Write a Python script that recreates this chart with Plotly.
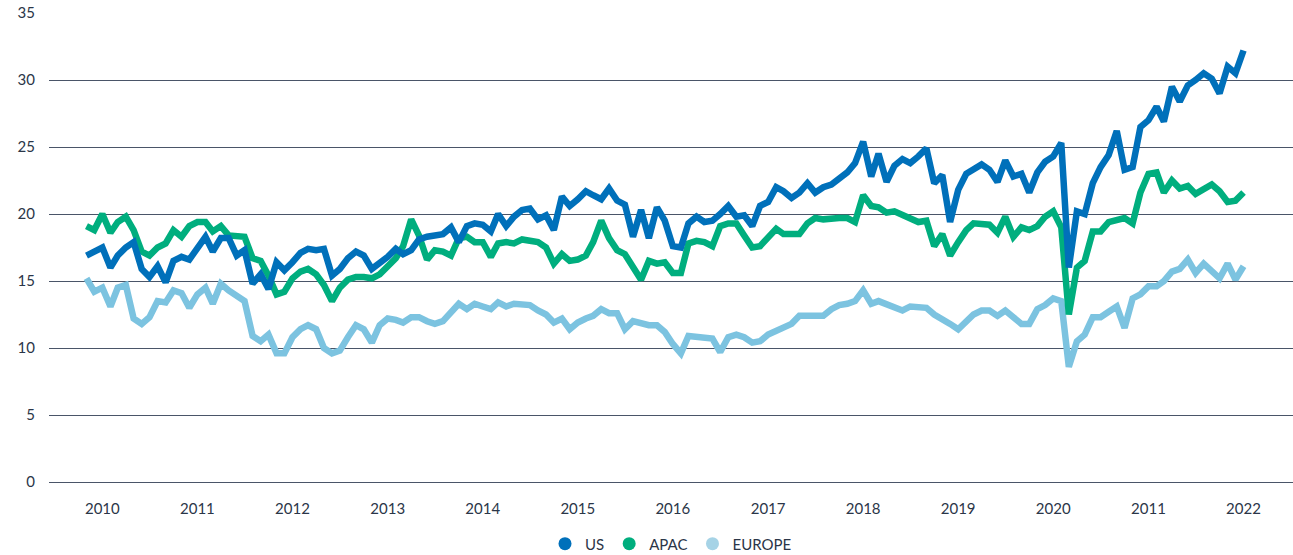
import pandas as pd
import plotly.graph_objects as go

# Monthly observations, Nov 2009 .. Jan 2022
months = pd.date_range("2009-11-01", periods=147, freq="MS")

us = [16.9, 17.2, 17.5, 16.0, 16.9, 17.5, 17.9, 15.9, 15.3, 16.1, 14.9, 16.5, 16.8, 16.6, 17.4, 18.3, 17.2, 18.2, 18.2, 16.9,
      17.3, 14.8, 15.5, 14.4, 16.4, 15.8, 16.4, 17.1, 17.4, 17.3, 17.4, 15.4, 15.9, 16.7, 17.2, 16.9, 15.9, 16.3, 16.8, 17.4,
      17.0, 17.3, 18.1, 18.3, 18.4, 18.5, 19.0, 17.9, 19.1, 19.3, 19.2, 18.7, 20.0, 19.1, 19.8, 20.3, 20.4, 19.6, 19.9, 18.8,
      21.3, 20.6, 21.1, 21.7, 21.4, 21.1, 21.9, 21.0, 20.7, 18.3, 20.3, 18.2, 20.5, 19.5, 17.6, 17.5, 19.3, 19.8, 19.4, 19.5,
      20.0, 20.6, 19.8, 19.9, 19.1, 20.6, 20.9, 22.0, 21.7, 21.2, 21.6, 22.3, 21.6, 22.0, 22.2, 22.6, 23.1, 23.8, 25.4, 22.8,
      24.5, 22.4, 23.6, 24.1, 23.8, 24.3, 24.9, 22.3, 22.9, 19.4, 21.8, 23.0, 23.4, 23.7, 23.3, 22.4, 24.0, 22.8, 23.0, 21.6,
      23.1, 23.9, 24.3, 25.3, 16.0, 20.2, 20.0, 22.3, 23.5, 24.4, 26.2, 23.3, 23.5, 26.5, 27.0, 28.0, 26.9, 29.5, 28.4, 29.6,
      30.0, 30.5, 30.1, 29.0, 31.0, 30.5, 32.2]

apac = [19.1, 18.8, 20.0, 18.6, 19.4, 19.8, 18.8, 17.2, 16.9, 17.5, 17.8, 18.8, 18.3, 19.1, 19.4, 19.4, 18.7, 19.1, 18.4, 18.3,
        18.3, 16.7, 16.5, 15.4, 14.0, 14.2, 15.2, 15.7, 15.9, 15.5, 14.7, 13.5, 14.5, 15.1, 15.3, 15.3, 15.2, 15.5, 16.1, 16.7,
        17.6, 19.6, 18.4, 16.6, 17.3, 17.2, 16.9, 18.2, 18.3, 17.9, 17.9, 16.8, 17.8, 17.9, 17.8, 18.1, 18.0, 17.9, 17.5, 16.3,
        17.0, 16.5, 16.6, 16.9, 17.9, 19.5, 18.2, 17.3, 17.0, 16.1, 15.1, 16.5, 16.3, 16.4, 15.6, 15.6, 17.8, 18.0, 17.9, 17.6,
        19.1, 19.3, 19.3, 18.4, 17.5, 17.6, 18.2, 18.9, 18.5, 18.5, 18.5, 19.3, 19.7, 19.6, 19.7, 19.7, 19.7, 19.4, 21.4, 20.6,
        20.5, 20.1, 20.2, 19.9, 19.7, 19.4, 19.5, 17.6, 18.5, 16.9, 17.9, 18.8, 19.3, 19.3, 19.2, 18.6, 19.8, 18.3, 19.0, 18.8,
        19.1, 19.8, 20.2, 19.0, 12.5, 16.0, 16.5, 18.7, 18.7, 19.4, 19.6, 19.7, 19.3, 21.6, 23.0, 23.1, 21.6, 22.5, 21.9, 22.1,
        21.5, 21.8, 22.2, 21.7, 20.9, 21.0, 21.6]

europe = [15.2, 14.2, 14.5, 13.1, 14.5, 14.7, 12.2, 11.8, 12.3, 13.5, 13.4, 14.3, 14.1, 13.0, 14.0, 14.5, 13.3, 14.8, 14.3, 13.9,
          13.5, 10.9, 10.5, 11.0, 9.6, 9.6, 10.8, 11.4, 11.7, 11.4, 10.0, 9.6, 9.8, 10.8, 11.7, 11.4, 10.4, 11.7, 12.2, 12.1,
          11.9, 12.3, 12.3, 12.0, 11.8, 12.0, 12.6, 13.3, 12.9, 13.3, 13.1, 12.9, 13.4, 13.1, 13.3, 13.3, 13.2, 12.8, 12.5, 11.9,
          12.2, 11.4, 11.9, 12.2, 12.4, 12.9, 12.6, 12.6, 11.4, 12.0, 11.8, 11.7, 11.7, 11.2, 10.3, 9.6, 10.9, 10.8, 10.8, 10.7,
          9.7, 10.8, 11.0, 10.8, 10.4, 10.5, 11.0, 11.3, 11.6, 11.8, 12.4, 12.4, 12.4, 12.4, 12.9, 13.2, 13.3, 13.5, 14.3, 13.3,
          13.5, 13.3, 13.0, 12.8, 13.1, 13.0, 13.0, 12.5, 12.2, 11.8, 11.4, 12.0, 12.5, 12.8, 12.8, 12.4, 12.8, 12.3, 11.8, 11.8,
          12.9, 13.2, 13.7, 13.5, 8.6, 10.5, 11.0, 12.3, 12.3, 12.7, 13.1, 11.5, 13.7, 14.0, 14.6, 14.6, 15.0, 15.7, 15.9, 16.6,
          15.6, 16.3, 15.8, 15.2, 16.3, 15.1, 16.1]

tick_years = [2010, 2011, 2012, 2013, 2014, 2015, 2016, 2017, 2018, 2019, 2020, 2021, 2022]
tick_labels = ["2010", "2011", "2012", "2013", "2014", "2015", "2016", "2017", "2018", "2019", "2020", "2011", "2022"]

series_names = ["US", "APAC", "EUROPE"]
series_colors = ["#0070BA", "#00AE7E", "#7CC3E0"]
legend_colors = ["#0070BA", "#00AE7E", "#A6D3E6"]

fig = go.Figure()
# draw Europe first, US on top
for name, vals, col in [("EUROPE", europe, series_colors[2]), ("APAC", apac, series_colors[1]), ("US", us, series_colors[0])]:
    fig.add_trace(go.Scatter(x=months, y=vals, mode="lines", name=name,
                             line=dict(color=col, width=6.5), showlegend=False,
                             hoverinfo="x+y"))

for name, col in zip(series_names, legend_colors):
    fig.add_trace(go.Scatter(x=[None], y=[None], mode="markers", name=name,
                             marker=dict(color=col, size=13, symbol="circle")))

text_color = "#2B3648"
fig.update_layout(
    width=1293, height=555,
    margin=dict(l=49, r=0, t=13, b=73, autoexpand=False),
    paper_bgcolor="white", plot_bgcolor="white",
    font=dict(family="Lato, Open Sans, sans-serif", size=15, color=text_color),
    showlegend=True,
    legend=dict(orientation="h", x=0.5, xanchor="center", y=-0.132, yanchor="middle",
                font=dict(size=15, color=text_color), itemwidth=30, tracegroupgap=0,
                bgcolor="rgba(0,0,0,0)"),
    xaxis=dict(
        range=["2009-06-10", "2022-07-10"],
        tickvals=[pd.Timestamp(f"{y}-01-01") for y in tick_years],
        ticktext=tick_labels,
        showgrid=False, zeroline=False, showline=False,
        ticks="outside", ticklen=13, tickcolor="rgba(0,0,0,0)",
        tickfont=dict(size=15, color=text_color),
    ),
    yaxis=dict(
        range=[0, 35], tickvals=[0, 5, 10, 15, 20, 25, 30, 35],
        showgrid=True, gridcolor="#4A5568", gridwidth=1,
        zeroline=True, zerolinecolor="#4A5568", zerolinewidth=1,
        showline=False,
        ticks="outside", ticklen=10, tickcolor="rgba(0,0,0,0)",
        tickfont=dict(size=15, color=text_color),
    ),
)

fig.write_html("out.html")
